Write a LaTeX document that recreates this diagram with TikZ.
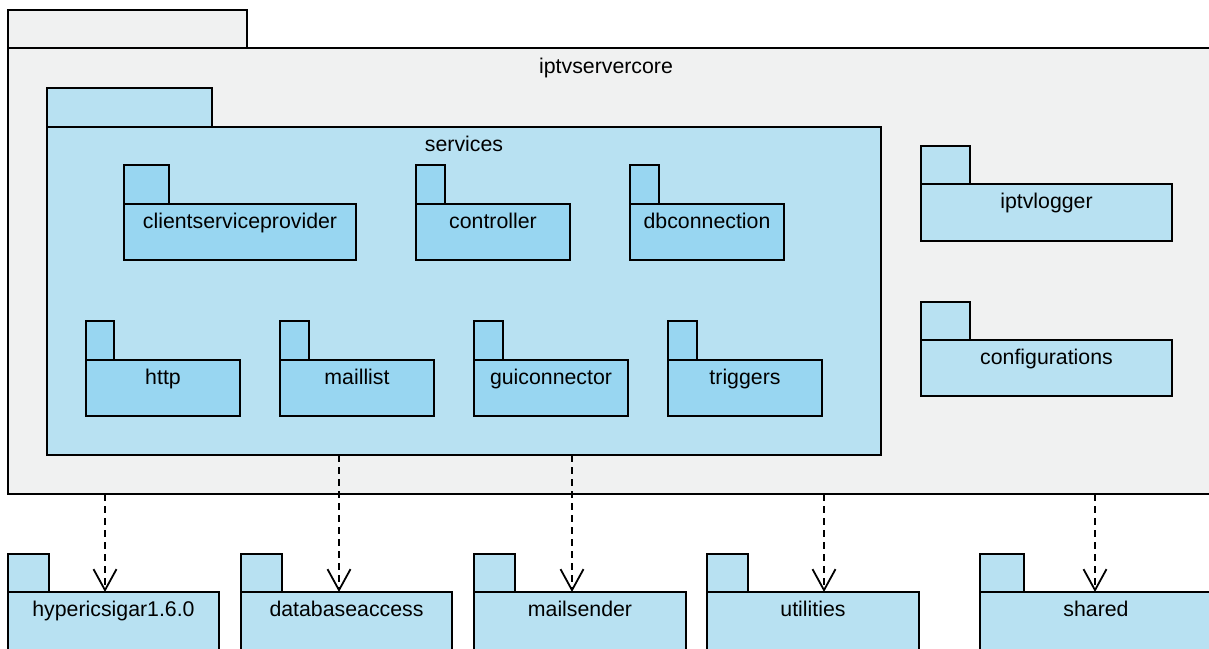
\documentclass[tikz,border=0pt]{standalone}
\usepackage{fontspec}
\setmainfont{Liberation Sans}
\usetikzlibrary{arrows.meta}

\definecolor{framegray}{HTML}{F0F1F1}
\definecolor{pkglight}{HTML}{B8E1F2}
\definecolor{pkgdark}{HTML}{98D6F1}

\tikzset{
  pkgshape/.style={draw=black, line width=2.2pt, inner sep=0pt, outer sep=0pt,
    rectangle, anchor=north west},
  pkglabel/.style={anchor=base, inner sep=0pt,
    font=\fontsize{21.3}{25}\selectfont},
  depend/.style={line width=2pt, dash pattern=on 7pt off 5pt,
    -{Straight Barb[length=21pt, width=23pt, line width=1.8pt]}},
}

% \umlpkg{name}{fill}{left}{tab right}{tab top}{body top}{body right}{body bottom}{label}
\newcommand\umlpkg[9]{%
  \node[pkgshape, fill=#2, minimum width={(#4-#3)*1pt}, minimum height={(#6-#5)*1pt}]
    (#1tab) at (#3,#5) {};
  \node[pkgshape, fill=#2, minimum width={(#7-#3)*1pt}, minimum height={(#8-#6)*1pt}]
    (#1) at (#3,#6) {};
  \node[pkglabel] (#1label) at ([yshift=-24pt]#1.north) {#9};
}

\begin{document}
\begin{tikzpicture}[x=1pt, y=-1pt]
  \useasboundingbox (0,0) rectangle (1209,648);
  \clip (0,0) rectangle (1209,648);
  \fill[white] (0,0) rectangle (1209,648);

  % enclosing package
  \umlpkg{core}{framegray}{8}{247}{10}{48}{1212}{494}{}
  \node[pkglabel] (corelabel) at (606,73) {iptvservercore};

  % services package and its content
  \umlpkg{services}{pkglight}{47}{212}{88}{127}{881}{455}{services}

  \umlpkg{csp}{pkgdark}{124}{169}{165}{204}{356}{260}{clientserviceprovider}
  \umlpkg{ctrl}{pkgdark}{416}{445}{165}{204}{570}{260}{controller}
  \umlpkg{dbc}{pkgdark}{630}{659}{165}{204}{784}{260}{dbconnection}

  \umlpkg{http}{pkgdark}{86}{114}{321}{360}{240}{416}{http}
  \umlpkg{mlist}{pkgdark}{280}{309}{321}{360}{434}{416}{maillist}
  \umlpkg{gui}{pkgdark}{474}{503}{321}{360}{628}{416}{guiconnector}
  \umlpkg{trig}{pkgdark}{668}{697}{321}{360}{822}{416}{triggers}

  % packages beside services
  \umlpkg{logger}{pkglight}{921}{970}{146}{184}{1172}{241}{iptvlogger}
  \umlpkg{config}{pkglight}{921}{970}{302}{340}{1172}{396}{configurations}

  % external packages
  \umlpkg{sigar}{pkglight}{8}{49}{554}{592}{219}{690}{hypericsigar1.6.0}
  \umlpkg{dbacc}{pkglight}{241}{282}{554}{592}{452}{690}{databaseaccess}
  \umlpkg{msend}{pkglight}{474}{515}{554}{592}{686}{690}{mailsender}
  \umlpkg{util}{pkglight}{707}{748}{554}{592}{919}{690}{utilities}
  \umlpkg{shared}{pkglight}{980}{1024}{554}{592}{1212}{690}{shared}

  % dependency start points
  \coordinate (d1) at (105,494);
  \coordinate (d2) at (339,455);
  \coordinate (d3) at (572,455);
  \coordinate (d4) at (824,494);
  \coordinate (d5) at (1095,494);

  \draw[depend] (d1) -- (d1 |- sigar.north);
  \draw[depend] (d2) -- (d2 |- dbacc.north);
  \draw[depend] (d3) -- (d3 |- msend.north);
  \draw[depend] (d4) -- (d4 |- util.north);
  \draw[depend] (d5) -- (d5 |- shared.north);
\end{tikzpicture}
\end{document}
